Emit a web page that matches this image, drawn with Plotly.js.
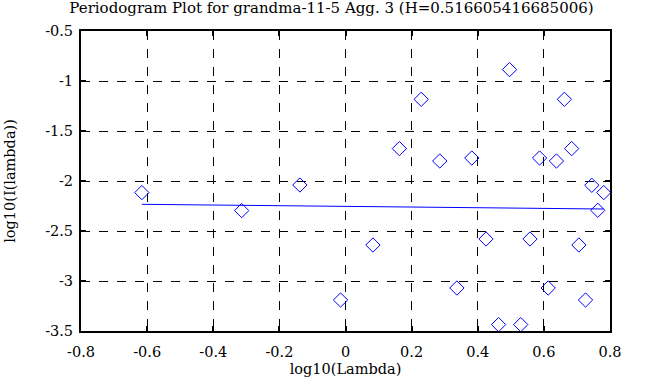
<!DOCTYPE html>
<html>
<head>
<meta charset="utf-8">
<script src="https://cdn.plot.ly/plotly-3.0.1.min.js"></script>
<style>html,body{margin:0;padding:0;background:#fff;}#chart{width:663px;height:387px;}</style>
</head>
<body>
<div id="chart"></div>
<script>
var logLambda = [-0.616, -0.314, -0.138, -0.015, 0.083, 0.163, 0.229, 0.285, 0.337, 0.382, 0.425, 0.463, 0.496, 0.530, 0.558, 0.587, 0.613, 0.638, 0.662, 0.684, 0.706, 0.726, 0.745, 0.763, 0.781];
var logI = [-2.116, -2.296, -2.040, -3.190, -2.640, -1.676, -1.183, -1.800, -3.070, -1.770, -2.580, -3.436, -0.886, -3.436, -2.580, -1.770, -3.070, -1.800, -1.183, -1.676, -2.640, -3.190, -2.043, -2.293, -2.116];
var fitX = [-0.616, 0.781];
var fitY = [-2.233, -2.280];
var titleText = 'Periodogram Plot for grandma-11-5 Agg. 3 (H=0.516605416685006)';
var xTicks = [-0.8, -0.6, -0.4, -0.2, 0, 0.2, 0.4, 0.6, 0.8];
var yTicks = [-0.5, -1, -1.5, -2, -2.5, -3, -3.5];

var font = {family: 'DejaVu Serif', size: 14.5, color: '#000'};
var titleFont = {family: 'DejaVu Serif', size: 15, color: '#000'};

var traces = [
  {x: logLambda, y: logI, mode: 'markers', type: 'scatter',
   marker: {symbol: 'diamond-open', size: 11, color: '#0000ff', line: {width: 1, color: '#0000ff'}},
   hoverinfo: 'none'},
  {x: fitX, y: fitY, mode: 'lines', type: 'scatter',
   line: {color: '#0000ff', width: 1}, hoverinfo: 'none'}
];

var axisCommon = {
  showline: true, mirror: 'ticks', linecolor: '#000', linewidth: 2,
  ticks: 'inside', ticklen: 5, tickwidth: 2, tickcolor: '#000',
  showgrid: true, gridcolor: '#000', gridwidth: 1, griddash: 'dash',
  zeroline: false, tickfont: font, automargin: false
};

var layout = {
  width: 663, height: 387,
  margin: {l: 81, r: 53, t: 31, b: 56},
  paper_bgcolor: '#fff', plot_bgcolor: '#fff',
  showlegend: false,
  font: font,
  title: {text: titleText, font: titleFont, x: 0.5, xref: 'container', xanchor: 'center', y: 0.993, yref: 'container', yanchor: 'top'},
  xaxis: Object.assign({}, axisCommon, {
    range: [-0.8, 0.8], tickmode: 'array', tickvals: xTicks,
    ticktext: xTicks.map(function(v){return String(v);}),
    ticklabelstandoff: 7,
    title: {text: 'log10(Lambda)', font: font, standoff: 4}
  }),
  yaxis: Object.assign({}, axisCommon, {
    range: [-3.5, -0.5], tickmode: 'array', tickvals: yTicks,
    ticktext: yTicks.map(function(v){return String(v);}),
    ticklabelstandoff: 3,
    title: {text: 'log10(I(lambda))', font: font, standoff: 26}
  })
};

Plotly.newPlot('chart', traces, layout, {staticPlot: true, displayModeBar: false});
</script>
</body>
</html>
